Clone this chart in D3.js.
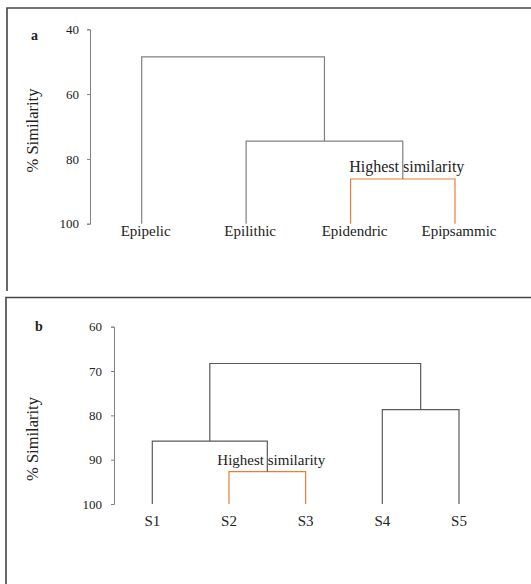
<!DOCTYPE html>
<html>
<head>
<meta charset="utf-8">
<script src="https://cdn.jsdelivr.net/npm/d3@7"></script>
<style>
  body { margin: 0; background: #fff; }
  text { font-family: "Liberation Serif", "Times New Roman", serif; fill: #222; }
</style>
</head>
<body>
<div id="chart"></div>
<script>
// panel a: substrate types
const leavesA = ['Epipelic', 'Epilithic', 'Epidendric', 'Epipsammic'];
// [child, child, % similarity]; index >= leaves.length points to an earlier merge
const mergesA = [[2, 3, 86.2], [1, 4, 74.5], [0, 5, 48.5]];
const ticksA = [40, 60, 80, 100];

// panel b: sites
const leavesB = ['S1', 'S2', 'S3', 'S4', 'S5'];
const mergesB = [[1, 2, 92.7], [0, 5, 85.8], [3, 4, 78.7], [6, 7, 68.3]];
const ticksB = [60, 70, 80, 90, 100];

const width = 531, height = 584;
const orange = '#ED7D31';

const svg = d3.select('#chart')
    .append('svg')
    .attr('width', width)
    .attr('height', height);

// panel frames
svg.append('path')
    .attr('d', 'M7,291V8H531')
    .attr('fill', 'none')
    .attr('stroke', '#444')
    .attr('stroke-width', 1.6);
svg.append('path')
    .attr('d', 'M6,584V297.5H531')
    .attr('fill', 'none')
    .attr('stroke', '#444')
    .attr('stroke-width', 1.6);

function dendrogram(opts) {
  const g = svg.append('g');
  const y = d3.scaleLinear().domain(opts.domain).range(opts.yRange);
  const x = d3.scalePoint().domain(opts.leaves).range(opts.xRange);

  const axis = g.append('g')
      .attr('transform', `translate(${opts.axisX},0)`)
      .call(d3.axisLeft(y).tickValues(opts.ticks).tickSize(3).tickPadding(opts.tickPadding));
  axis.selectAll('path, line').attr('stroke', '#808080');
  axis.selectAll('text')
      .style('font-family', '"Liberation Serif", "Times New Roman", serif')
      .style('font-size', '13px')
      .attr('fill', '#222');

  g.append('text')
      .attr('transform', `translate(38,${opts.titleY}) rotate(-90)`)
      .attr('text-anchor', 'middle')
      .style('font-size', '16.5px')
      .text('% Similarity');

  g.append('text')
      .attr('x', opts.letterX)
      .attr('y', opts.letterY)
      .style('font-size', '14px')
      .style('font-weight', 'bold')
      .text(opts.letter);

  const nodes = opts.leaves.map(d => ({x: x(d), h: 100}));
  opts.merges.forEach(m => {
    nodes.push({x: (nodes[m[0]].x + nodes[m[1]].x) / 2, h: m[2]});
  });

  // label of the closest pair sits just above its link
  const top = nodes[opts.leaves.length];
  g.append('text')
      .attr('x', top.x + 4)
      .attr('y', y(top.h) - 7)
      .attr('text-anchor', 'middle')
      .style('font-size', opts.noteSize)
      .text('Highest similarity');

  g.selectAll('.link')
      .data(opts.merges)
      .enter()
      .append('path')
      .attr('class', 'link')
      .attr('fill', 'none')
      .attr('stroke-width', 1.2)
      .attr('stroke', (d, i) => i === 0 ? orange : opts.lineColor)
      .attr('d', d => {
        const a = nodes[d[0]], b = nodes[d[1]];
        return `M${a.x},${y(a.h)}V${y(d[2])}H${b.x}V${y(b.h)}`;
      });

  g.selectAll('.leaf')
      .data(opts.leaves)
      .enter()
      .append('text')
      .attr('class', 'leaf')
      .attr('x', d => x(d) + opts.labelShift)
      .attr('y', y(100) + opts.labelDy)
      .attr('text-anchor', 'middle')
      .style('font-size', opts.leafSize)
      .text(d => d);
}

dendrogram({
  leaves: leavesA, merges: mergesA, ticks: ticksA,
  domain: [40, 100], yRange: [29.3, 223.7], xRange: [141.7, 455],
  axisX: 90, tickPadding: 8, titleY: 130.5,
  letter: 'a', letterX: 31, letterY: 40,
  lineColor: '#808080', labelShift: 4, labelDy: 12.5,
  leafSize: '15px', noteSize: '16px'
});

dendrogram({
  leaves: leavesB, merges: mergesB, ticks: ticksB,
  domain: [60, 100], yRange: [326.7, 504], xRange: [152.3, 459],
  axisX: 114, tickPadding: 9, titleY: 439,
  letter: 'b', letterX: 35, letterY: 330.7,
  lineColor: '#5a5a5a', labelShift: 0, labelDy: 22,
  leafSize: '15px', noteSize: '15px'
});
</script>
</body>
</html>
